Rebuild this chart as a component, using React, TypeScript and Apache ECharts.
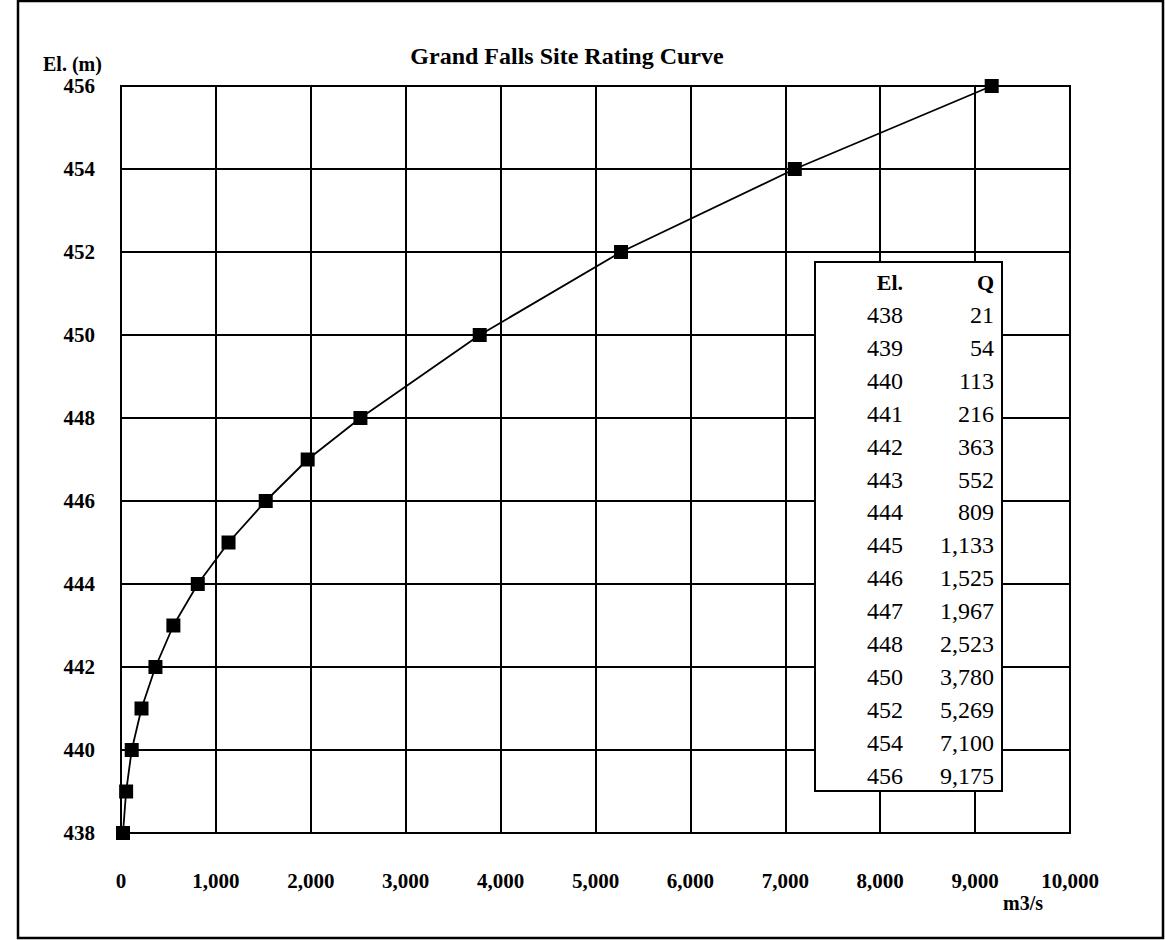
import React, { useEffect, useRef } from "react";
import * as echarts from "echarts";

const elevations = [438, 439, 440, 441, 442, 443, 444, 445, 446, 447, 448, 450, 452, 454, 456];
const flows = [21, 54, 113, 216, 363, 552, 809, 1133, 1525, 1967, 2523, 3780, 5269, 7100, 9175];
const titleText = "Grand Falls Site Rating Curve";
const yAxisName = "El. (m)";
const xAxisName = "m3/s";
const tableHeaders = ["El.", "Q"];

const SERIF = "'Liberation Serif', 'DejaVu Serif', serif";

function fmt(n: number): string {
  return n.toLocaleString("en-US");
}

export default function App() {
  const ref = useRef<HTMLDivElement>(null);

  useEffect(() => {
    document.body.style.margin = "0";
    if (!ref.current) return;
    const chart = echarts.init(ref.current, undefined, { renderer: "svg" });

    const tableLeft = 815;
    const tableTop = 262;
    const tableW = 187;
    const tableH = 529;
    const elRight = 903;
    const qRight = 994;
    const headerY = 282;
    const rowY0 = 315;
    const rowStep = 32.9;

    const mkText = (text: string, x: number, y: number, font: string, align = "right") => ({
      type: "text",
      z: 101,
      style: {
        text,
        x,
        y,
        font,
        fill: "#000",
        align,
        verticalAlign: "middle",
        textAlign: align,
        textVerticalAlign: "middle",
      },
    });

    const tableTexts: any[] = [];
    tableTexts.push(mkText(tableHeaders[0], elRight, headerY, `bold 22px ${SERIF}`));
    tableTexts.push(mkText(tableHeaders[1], qRight, headerY, `bold 22px ${SERIF}`));
    elevations.forEach((el, i) => {
      const y = rowY0 + i * rowStep;
      tableTexts.push(mkText(String(el), elRight, y, `24px ${SERIF}`));
      tableTexts.push(mkText(fmt(flows[i]), qRight, y, `24px ${SERIF}`));
    });

    const option: any = {
      animation: false,
      backgroundColor: "#fff",
      title: {
        text: titleText,
        left: 562,
        top: 39,
        textAlign: "center",
        textStyle: {
          fontFamily: SERIF,
          fontWeight: "bold",
          fontSize: 24,
          color: "#000",
        },
      },
      grid: {
        left: 121,
        right: 95,
        top: 86,
        bottom: 107,
        show: true,
        borderColor: "#000",
        borderWidth: 2,
      },
      xAxis: {
        type: "value",
        min: 0,
        max: 10000,
        interval: 1000,
        axisLine: { show: true, lineStyle: { color: "#000", width: 2 } },
        axisTick: { show: false },
        splitLine: { show: true, lineStyle: { color: "#000", width: 2 } },
        axisLabel: {
          margin: 37,
          color: "#000",
          fontFamily: SERIF,
          fontWeight: "bold",
          fontSize: 21,
          formatter: (v: number) => fmt(v),
        },
      },
      yAxis: {
        type: "value",
        min: 438,
        max: 456,
        interval: 2,
        axisLine: { show: true, lineStyle: { color: "#000", width: 2 } },
        axisTick: { show: false },
        splitLine: { show: true, lineStyle: { color: "#000", width: 2 } },
        axisLabel: {
          margin: 26,
          color: "#000",
          fontFamily: SERIF,
          fontWeight: "bold",
          fontSize: 21,
        },
      },
      series: [
        {
          type: "line",
          data: flows.map((q, i) => [q, elevations[i]]),
          symbol: "rect",
          symbolSize: 14,
          showSymbol: true,
          lineStyle: { color: "#000", width: 1.8 },
          itemStyle: { color: "#000" },
          z: 5,
        },
      ],
      graphic: [
        {
          type: "rect",
          z: -1,
          silent: true,
          shape: { x: 18, y: 1, width: 1145, height: 937 },
          style: { fill: "none", stroke: "#000", lineWidth: 2.5 },
        },
        mkText(yAxisName, 43, 64, `bold 20px ${SERIF}`, "left"),
        mkText(xAxisName, 1023, 903, `bold 20px ${SERIF}`, "center"),
        {
          type: "rect",
          z: 100,
          shape: { x: tableLeft, y: tableTop, width: tableW, height: tableH },
          style: { fill: "#fff", stroke: "#000", lineWidth: 2 },
        },
        ...tableTexts,
      ],
    };

    chart.setOption(option);
    return () => {
      chart.dispose();
    };
  }, []);

  return <div ref={ref} style={{ width: 1165, height: 940 }} />;
}
